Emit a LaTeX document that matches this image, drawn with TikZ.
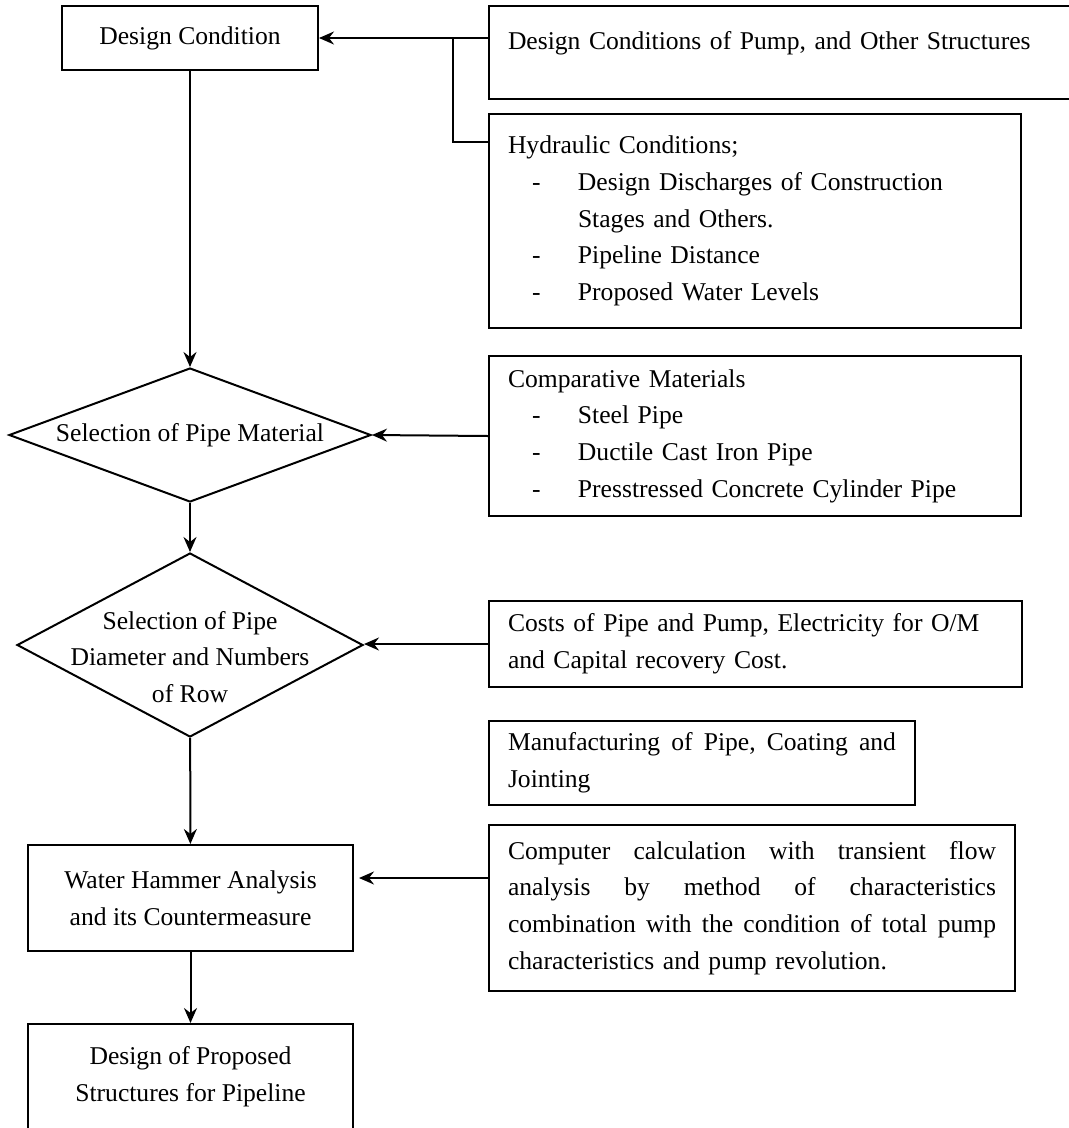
\documentclass[tikz,border=0pt]{standalone}
\usepackage{fontspec}
\setmainfont{Liberation Serif}
\usetikzlibrary{shapes.geometric,arrows.meta}
\newcommand{\dashitem}[1]{\hspace*{24pt}\makebox[46pt][l]{-}#1}
\newcommand{\fullline}[2]{\leavevmode\hbox to #1{#2}}
\begin{document}
\begin{tikzpicture}[x=1pt,y=-1pt,
  every node/.style={font=\fontsize{25.6}{36.6}\selectfont},
  box/.style={draw,line width=2pt,rectangle,inner sep=0pt,align=center},
  note/.style={draw,line width=2pt,rectangle,inner xsep=19pt,inner ysep=0pt,align=left,anchor=north west},
  decision/.style={draw,line width=2pt,diamond,inner sep=0pt},
  arr/.style={line width=2pt,-{Stealth[length=15pt,width=13pt,inset=5pt]}},
  link/.style={line width=2pt}]
\useasboundingbox (0,0) rectangle (1069,1128);
\clip (0,0) rectangle (1069,1128);
\node[box,minimum width=256pt,minimum height=64pt] (dc) at (190,38) {Design Condition};
\node[decision,minimum width=362pt,minimum height=134pt,label={[align=center]center:Selection of Pipe Material}] (mat) at (190,435) {};
\node[decision,minimum width=346pt,minimum height=184pt,label={[align=center,yshift=-12pt]center:Selection of Pipe\\Diameter and Numbers\\of Row}] (dia) at (190,645) {};
\node[box,minimum width=325pt,minimum height=106pt] (wh) at (190.5,898) {Water Hammer Analysis\\and its Countermeasure};
\node[box,minimum width=325pt,text height=77pt,text depth=63pt,anchor=north] (dp) at (190.5,1023) {Design of Proposed\\Structures for Pipeline};
\node[note,text width=559pt,text height=43pt,text depth=50pt] (pump) at (488,5) {Design Conditions of Pump, and Other Structures};
\node[note,text width=494pt,minimum height=214pt] (hyd) at (488,113) {Hydraulic Conditions;\\
  \dashitem{Design Discharges of Construction}\\
  \hspace*{70pt}Stages and Others.\\
  \dashitem{Pipeline Distance}\\
  \dashitem{Proposed Water Levels}};
\node[note,text width=494pt,minimum height=160pt] (cmp) at (488,355) {Comparative Materials\\
  \dashitem{Steel Pipe}\\
  \dashitem{Ductile Cast Iron Pipe}\\
  \dashitem{Presstressed Concrete Cylinder Pipe}};
\node[note,text width=495pt,minimum height=86pt] (cost) at (488,600) {Costs of Pipe and Pump, Electricity for O/M\\and Capital recovery Cost.};
\node[note,text width=388pt,minimum height=84pt] (mfg) at (488,720) {\fullline{388pt}{Manufacturing\hfill of\hfill Pipe,\hfill Coating\hfill and}\\Jointing};
\node[note,text width=488pt,minimum height=166pt] (cc) at (488,824) {\fullline{488pt}{Computer\hfill calculation\hfill with\hfill transient\hfill flow}\\
  \fullline{488pt}{analysis\hfill by\hfill method\hfill of\hfill characteristics}\\
  \fullline{488pt}{combination\hfill with\hfill the\hfill condition\hfill of\hfill total\hfill pump}\\
  characteristics and pump revolution.};
\coordinate (jn) at (453,38);
\draw[arr] (dc) -- (mat);
\draw[arr] (mat) -- (dia);
\draw[arr] (dia) -- (wh);
\draw[arr] (wh) -- (dp);
\draw[arr] (pump.west |- dc.east) -- (dc.east);
\draw[link] ([yshift=-29pt]hyd.north west) -| (jn);
\draw[arr] (cmp.west) -- (mat.east);
\draw[arr] (cost.west) -- (cost.west -| dia.east);
\draw[arr,shorten >=5pt] ([yshift=30pt]cc.west) -- ([yshift=30pt]cc.west -| wh.east);
\end{tikzpicture}
\end{document}
